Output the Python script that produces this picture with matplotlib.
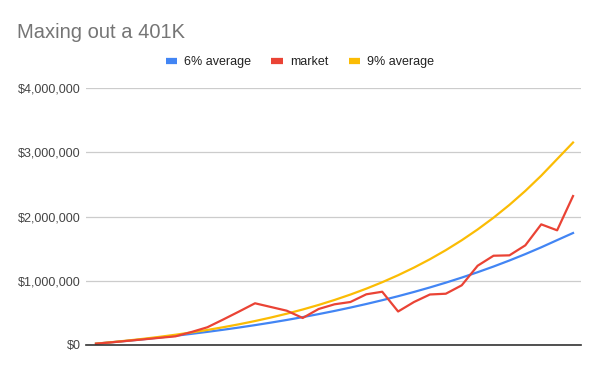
import numpy as np
import matplotlib.pyplot as plt
from matplotlib.ticker import FuncFormatter

plt.rcParams['font.family'] = ['Liberation Sans', 'DejaVu Sans']

# year index 0..30
years = np.arange(0, 31)

avg6 = [20670, 42580, 65805, 90423, 116519, 144180, 173501, 204581, 237526,
        272447, 309464, 348702, 390294, 434381, 481114, 530651, 583160,
        638820, 697819, 760358, 826650, 896919, 971404, 1050358, 1134050,
        1222762, 1316798, 1416476, 1522135, 1634133, 1745000]

market = [20000, 42000, 65000, 88000, 112000, 135000, 202000, 276000, 397000,
          522000, 650000, 592000, 534000, 421000, 561000, 634000, 670000,
          790000, 830000, 522000, 670000, 787000, 799000, 930000, 1235000,
          1391000, 1397000, 1553000, 1880000, 1787000, 2321000]

avg9 = [21255, 44423, 69675, 97202, 127205, 159908, 195555, 234410, 276762,
        322926, 373244, 428091, 487875, 553040, 624070, 701537, 785871,
        877858, 978122, 1087409, 1206530, 1336373, 1477906, 1632170, 1800331,
        1983601, 2183380, 2401140, 2638486, 2897210, 3155000]

yticks = [0, 1000000, 2000000, 3000000, 4000000]

fig = plt.figure(figsize=(6, 3.71), dpi=100)
ax = fig.add_axes([0.1433, 0.0701, 0.825, 0.6919])

ax.plot(years, avg6, color='#4285F4', lw=1.6, label='6% average', zorder=3)
ax.plot(years, market, color='#EA4335', lw=1.6, label='market', zorder=4)
ax.plot(years, avg9, color='#FBBC04', lw=1.6, label='9% average', zorder=3)

ax.set_xlim(-0.63, 30.5)
ax.set_ylim(0, 4000000)
ax.set_yticks(yticks)
ax.yaxis.set_major_formatter(FuncFormatter(lambda v, p: '${:,.0f}'.format(v)))
ax.set_xticks([])
ax.grid(axis='y', color='#cccccc', lw=0.9)
ax.set_axisbelow(True)
for s in ['top', 'right', 'left']:
    ax.spines[s].set_visible(False)
ax.spines['bottom'].set_color('#333333')
ax.spines['bottom'].set_linewidth(1.2)
ax.spines['bottom'].set_zorder(5)
ax.tick_params(axis='y', length=0, pad=4, labelsize=9, labelcolor='#444444')

fig.text(0.028, 0.912, 'Maxing out a 401K', fontsize=14.5, color='#757575',
         ha='left', va='center')

fig.legend(loc='center', bbox_to_anchor=(0.5, 0.833), ncol=3, frameon=False,
           fontsize=9, handlelength=0.9, handletextpad=0.6, columnspacing=1.6,
           labelcolor='#222222')
for h in fig.legends[0].legend_handles:
    h.set_linewidth(4.5)
    h.set_solid_capstyle('butt')

fig.savefig('out.png', dpi=100)
